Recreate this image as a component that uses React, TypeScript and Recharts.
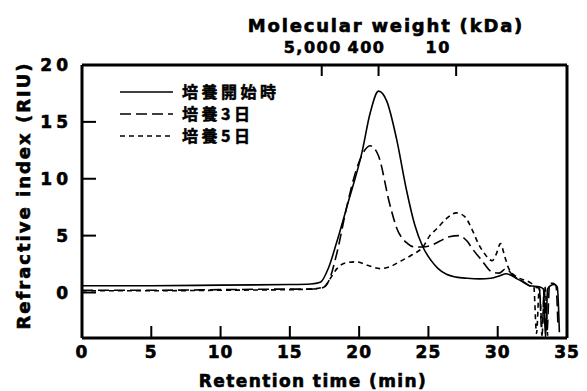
import React from 'react';
import { LineChart, Line, XAxis, YAxis, Legend, Label } from 'recharts';

// 培養開始時 (solid)
const startTime = [0, 5, 10, 15, 16.5, 17.2, 17.8, 18.4, 19.2, 20.2, 20.8, 21.4, 22.0, 22.7, 23.4, 24.0, 24.6, 25.2, 25.7, 26.3, 27.0, 27.8, 28.7, 29.5, 30.2, 30.6, 31.0, 31.4, 31.9, 32.3, 33.0, 33.3, 33.45, 33.6, 33.8, 34.1, 34.3, 34.45];
const startRIU = [0.6, 0.6, 0.65, 0.7, 0.75, 0.9, 2.2, 4.5, 7.9, 12.3, 15.8, 17.7, 16.8, 13.5, 9.1, 6.0, 4.0, 2.8, 2.1, 1.6, 1.35, 1.25, 1.2, 1.25, 1.5, 1.65, 1.5, 1.2, 0.9, 0.6, 0.5, 0.3, -4, 0.3, 0.6, 0.7, 0.5, -3.5];

// 培養3日 (long dash)
const day3Time = [0, 5, 10, 15, 16.5, 17.3, 17.8, 18.4, 19.1, 19.8, 20.4, 20.8, 21.4, 22.2, 22.7, 23.5, 24.0, 24.6, 25.1, 25.8, 26.5, 27.2, 27.8, 28.2, 28.8, 29.6, 30.1, 30.6, 31.1, 31.6, 32.5, 33.0, 33.2, 33.35, 33.55, 33.75, 34.0, 34.2, 34.35];
const day3RIU = [0.2, 0.2, 0.25, 0.3, 0.3, 0.4, 1.0, 3.5, 7.5, 10.8, 12.5, 12.9, 12.0, 7.8, 5.7, 4.3, 4.0, 4.0, 4.1, 4.5, 4.9, 5.0, 4.5, 3.8, 2.9, 1.8, 1.7, 2.1, 1.5, 1.1, 0.5, 0.4, -3.8, 0.3, -3.5, 0.8, 0.8, 0.6, -3.0];

// 培養5日 (short dash)
const day5Time = [0, 5, 10, 15, 16.5, 17.5, 17.9, 18.4, 19.0, 19.8, 20.6, 21.5, 22.3, 22.9, 23.8, 24.6, 25.1, 25.6, 26.3, 27.0, 27.6, 28.2, 28.6, 29.0, 29.6, 29.9, 30.2, 30.5, 30.8, 31.4, 31.9, 32.3, 32.6, 32.8, 33.0, 33.2, 33.4, 33.6];
const day5RIU = [0.15, 0.15, 0.2, 0.25, 0.3, 0.5, 1.2, 2.1, 2.6, 2.7, 2.4, 2.1, 2.3, 2.7, 3.3, 4.0, 5.0, 5.6, 6.5, 7.0, 6.7, 5.4, 4.3, 3.5, 2.8, 3.4, 4.3, 3.2, 2.1, 1.35, 1.1, 0.9, 0.6, -3.6, 0.4, -3.0, 0.5, -3.8];

const legendLabels = ['培養開始時', '培養3日', '培養5日'];
const xTicks = [0, 5, 10, 15, 20, 25, 30, 35];
const yTicks = [0, 5, 10, 15, 20];
const mwTickTimes = [17.3, 21.4, 27.0];
const mwTickLabels = ['5,000', '400', '10'];

const X_DOMAIN = [0, 35];
const Y_DOMAIN = [-4, 20];

const toPoints = (ts: number[], vs: number[]) => ts.map((t, i) => ({ t, v: vs[i] }));

const FONT = '"DejaVu Sans", sans-serif';
const CJK = '"Noto Sans CJK JP", sans-serif';
const dashes = ['', '11 5', '5 4'];
const mwLabelShift = [-9, -12, -18];
const heavy = { stroke: '#000', strokeWidth: 0.6 };

// Plot-area edges (chart coordinates)
const CHART_W = 579;
const CHART_H = 383;
const PLOT_TOP = 57;
const PLOT_BOTTOM = 330;
const PLOT_LEFT = 74;
const PLOT_RIGHT = 559;

const BottomTick = (props: any) => {
  const { x, payload, index } = props;
  const inner = index > 0 && index < xTicks.length - 1;
  return (
    <g>
      {inner && <rect x={x - 1} y={PLOT_BOTTOM - 12} width={2} height={12} fill="#000" />}
      <text x={x} y={PLOT_BOTTOM + 20} textAnchor="middle" fontFamily={FONT} fontWeight="bold" fontSize={17} letterSpacing={1} fill="#000" {...heavy}>
        {payload.value}
      </text>
    </g>
  );
};

const TopTick = (props: any) => {
  const { x, index } = props;
  return (
    <g>
      <rect x={x - 1} y={PLOT_TOP} width={2} height={11} fill="#000" />
      <text x={x + mwLabelShift[index]} y={PLOT_TOP - 12} textAnchor="middle" fontFamily={FONT} fontWeight="bold" fontSize={16} letterSpacing={1.5} fill="#000" {...heavy}>
        {mwTickLabels[index]}
      </text>
    </g>
  );
};

const LeftTick = (props: any) => {
  const { y, payload, index } = props;
  const inner = index < yTicks.length - 1;
  return (
    <g>
      {inner && <rect x={PLOT_LEFT} y={y - 1} width={14} height={2} fill="#000" />}
      <text x={PLOT_LEFT - 10} y={y + 6} textAnchor="end" fontFamily={FONT} fontWeight="bold" fontSize={17} letterSpacing={4} fill="#000" {...heavy}>
        {payload.value}
      </text>
    </g>
  );
};

const LegendContent = () => (
  <svg width={300} height={150} style={{ overflow: 'visible' }}>
    {legendLabels.map((name, i) => {
      const ry = 84 + i * 22;
      return (
        <g key={name}>
          <line x1={112} x2={165} y1={ry} y2={ry} stroke="#000" strokeWidth={1.6} strokeDasharray={dashes[i] || undefined} />
          <text x={174} y={ry + 6} fontFamily={CJK} fontWeight="bold" fontSize={16} letterSpacing={3.5} fill="#000" stroke="#000" strokeWidth={0.5}>
            {name}
          </text>
        </g>
      );
    })}
  </svg>
);

export default function App() {
  const series = [
    toPoints(startTime, startRIU),
    toPoints(day3Time, day3RIU),
    toPoints(day5Time, day5RIU),
  ];
  return (
    <LineChart width={CHART_W} height={CHART_H} margin={{ top: PLOT_TOP, right: CHART_W - PLOT_RIGHT, bottom: CHART_H - PLOT_BOTTOM, left: PLOT_LEFT }}>
      <XAxis
        xAxisId="bottom"
        type="number"
        dataKey="t"
        domain={X_DOMAIN}
        ticks={xTicks}
        interval={0}
        height={1}
        mirror
        tickSize={0}
        tickMargin={0}
        tickLine={false}
        axisLine={{ stroke: '#000', strokeWidth: 3 }}
        tick={<BottomTick />}
        allowDataOverflow
      >
        <Label
          content={() => (
            <text x={305} y={PLOT_BOTTOM + 49} textAnchor="middle" fontFamily={FONT} fontWeight="bold" fontSize={17} letterSpacing={1.4} fill="#000" {...heavy}>
              Retention time (min)
            </text>
          )}
        />
      </XAxis>
      <XAxis
        xAxisId="top"
        orientation="top"
        type="number"
        dataKey="t"
        domain={X_DOMAIN}
        ticks={mwTickTimes}
        interval={0}
        height={1}
        mirror
        tickSize={0}
        tickMargin={0}
        tickLine={false}
        axisLine={{ stroke: '#000', strokeWidth: 3 }}
        tick={<TopTick />}
        allowDataOverflow
      >
        <Label
          content={() => (
            <text x={378} y={PLOT_TOP - 33} textAnchor="middle" fontFamily={FONT} fontWeight="bold" fontSize={18} letterSpacing={1.8} fill="#000" {...heavy}>
              Molecular weight (kDa)
            </text>
          )}
        />
      </XAxis>
      <YAxis
        yAxisId="left"
        type="number"
        domain={Y_DOMAIN}
        ticks={yTicks}
        interval={0}
        width={1}
        mirror
        tickSize={0}
        tickMargin={0}
        tickLine={false}
        axisLine={{ stroke: '#000', strokeWidth: 3 }}
        tick={<LeftTick />}
        allowDataOverflow
      >
        <Label
          content={() => {
            const cx = 22;
            const cy = (PLOT_TOP + PLOT_BOTTOM) / 2 - 6;
            return (
              <text x={cx} y={cy} transform={`rotate(-90, ${cx}, ${cy})`} textAnchor="middle" fontFamily={FONT} fontWeight="bold" fontSize={18} letterSpacing={2} fill="#000" {...heavy}>
                Refractive index (RIU)
              </text>
            );
          }}
        />
      </YAxis>
      <YAxis
        yAxisId="right"
        orientation="right"
        type="number"
        domain={Y_DOMAIN}
        width={1}
        mirror
        tick={false}
        tickLine={false}
        axisLine={{ stroke: '#000', strokeWidth: 3 }}
        allowDataOverflow
      />
      <Legend
        layout="vertical"
        align="center"
        verticalAlign="middle"
        wrapperStyle={{ left: 0, top: 0, width: 300, height: 150, pointerEvents: 'none' }}
        content={<LegendContent />}
      />
      {series.map((d, i) => (
        <Line
          key={legendLabels[i]}
          name={legendLabels[i]}
          data={d}
          dataKey="v"
          xAxisId="bottom"
          yAxisId="left"
          type="monotone"
          stroke="#000"
          strokeWidth={1.6}
          strokeDasharray={dashes[i] || undefined}
          dot={false}
          activeDot={false}
          isAnimationActive={false}
        />
      ))}
    </LineChart>
  );
}
